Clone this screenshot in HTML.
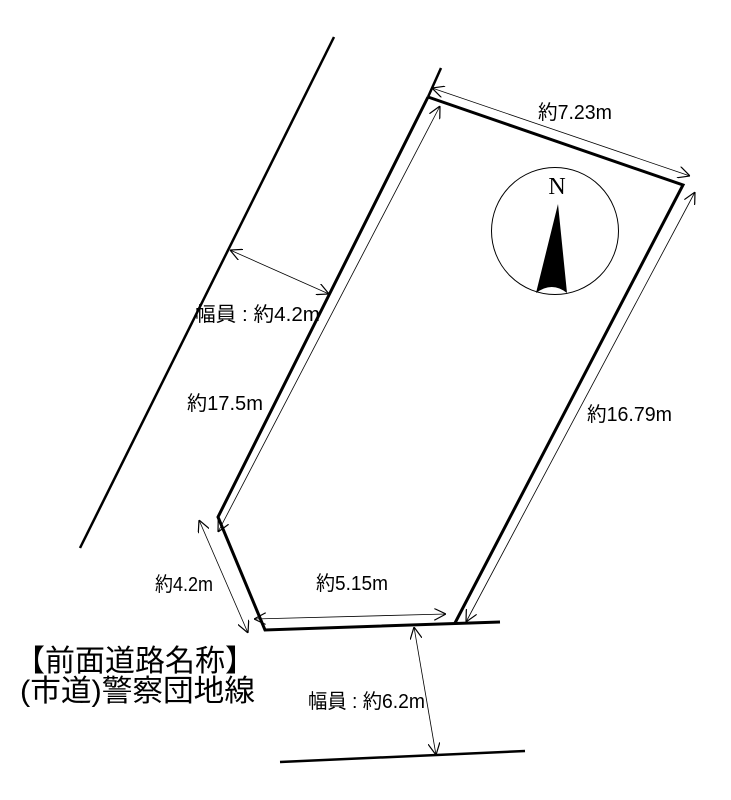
<!DOCTYPE html>
<html><head><meta charset="utf-8"><style>
html,body{margin:0;padding:0;background:#fff;}
svg{display:block;}
text{font-family:"Liberation Sans","Noto Sans CJK JP",sans-serif;fill:#000;}
</style></head><body>
<svg width="731" height="800" viewBox="0 0 731 800" xmlns="http://www.w3.org/2000/svg">
<defs>
<marker id="a" viewBox="0 0 10 10" refX="10" refY="5" markerWidth="12" markerHeight="12" markerUnits="userSpaceOnUse" orient="auto-start-reverse">
<path d="M0,0 L10,5 L0,10" fill="none" stroke="#000" stroke-width="1"/>
</marker>
</defs>
<g stroke="#000" fill="none">
<line x1="334" y1="37" x2="80" y2="548" stroke-width="2.5"/>
<line x1="441" y1="68" x2="428" y2="97" stroke-width="2.5"/>
<polyline points="428,97 683,185 455,623" stroke-width="3"/>
<polyline points="428,97 218,517 265,630 500,622" stroke-width="3"/>
<line x1="280" y1="762" x2="525" y2="751" stroke-width="2.5"/>
<g stroke-width="0.8" marker-start="url(#a)" marker-end="url(#a)">
<line x1="432" y1="88" x2="690" y2="176"/>
<line x1="695" y1="192" x2="466" y2="622"/>
<line x1="440" y1="106" x2="218" y2="532"/>
<line x1="199" y1="520" x2="248" y2="633"/>
<line x1="254" y1="619" x2="446" y2="614"/>
<line x1="230" y1="250" x2="329" y2="294"/>
<line x1="414" y1="627" x2="436" y2="755"/>
</g>
<circle cx="555" cy="231" r="63.5" stroke-width="1"/>
</g>
<path d="M558,204 L567,293 Q552,281 536,293 Z" fill="#000"/>
<text x="557" y="194" font-size="24" text-anchor="middle" style="font-family:'Liberation Serif',serif">N</text>
<g font-size="20">
<text x="538" y="119" textLength="74" lengthAdjust="spacingAndGlyphs">約7.23m</text>
<text x="195" y="321" textLength="125" lengthAdjust="spacingAndGlyphs">幅員 : 約4.2m</text>
<text x="187" y="410" textLength="76" lengthAdjust="spacingAndGlyphs">約17.5m</text>
<text x="587" y="421" textLength="85" lengthAdjust="spacingAndGlyphs">約16.79m</text>
<text x="155" y="591" textLength="58" lengthAdjust="spacingAndGlyphs">約4.2m</text>
<text x="316" y="590" textLength="72" lengthAdjust="spacingAndGlyphs">約5.15m</text>
<text x="308" y="708" textLength="117" lengthAdjust="spacingAndGlyphs">幅員 : 約6.2m</text>
</g>
<g font-size="30">
<text x="15" y="671" textLength="240" lengthAdjust="spacingAndGlyphs">【前面道路名称】</text>
<text x="20" y="701" textLength="235" lengthAdjust="spacingAndGlyphs">(市道)警察団地線</text>
</g>
</svg>
</body></html>
